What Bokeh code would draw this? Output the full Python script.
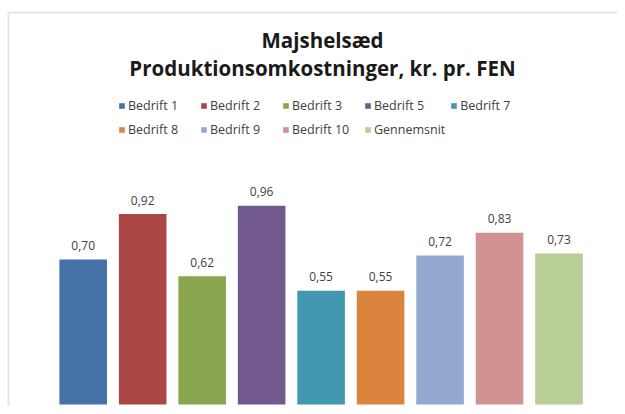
from bokeh.plotting import figure
from bokeh.models import (ColumnDataSource, FactorRange, Range1d, LabelSet, Label,
                          Legend, LegendItem, BoxAnnotation)
from bokeh.core.properties import value
from bokeh.transform import dodge
from bokeh.embed import file_html
from bokeh.resources import INLINE

# ---- data ----
categories = ["Bedrift 1", "Bedrift 2", "Bedrift 3", "Bedrift 5", "Bedrift 7",
              "Bedrift 8", "Bedrift 9", "Bedrift 10", "Gennemsnit"]
values = [0.70, 0.92, 0.62, 0.96, 0.55, 0.55, 0.72, 0.83, 0.73]
colors = ["#4572A7", "#AA4643", "#89A54E", "#71588F", "#4198AF",
          "#DB843D", "#93A9CF", "#D19392", "#B9CD96"]
title_lines = ["Majshelsæd", "Produktionsomkostninger, kr. pr. FEN"]

labels = [f"{v:.2f}".replace(".", ",") for v in values]

W, H = 617, 406
PX_PER_UNIT = 207.0
BASE = 2          # px from canvas bottom to bar baseline
STEP = 59.475     # px per category
PAD = (W / STEP - len(categories)) / 2
SHIFT = 0.2035    # category-unit shift of the bar group

source = ColumnDataSource(dict(cat=categories, val=values, color=colors, lab=labels))

p = figure(width=W, height=H,
           x_range=FactorRange(*categories, range_padding=PAD,
                               range_padding_units="absolute"),
           y_range=Range1d(-BASE / PX_PER_UNIT, (H - BASE) / PX_PER_UNIT),
           output_backend="svg", toolbar_location=None,
           x_axis_location=None, y_axis_location=None,
           min_border_left=0, min_border_right=0,
           min_border_top=0, min_border_bottom=0)
p.grid.visible = False
p.outline_line_color = None
p.background_fill_color = "white"
p.border_fill_color = "white"

xpos = dodge("cat", SHIFT, range=p.x_range)
r = p.vbar(x=xpos, top="val", bottom=0, width=0.8, source=source,
           fill_color="color", line_color=None)

p.add_layout(LabelSet(x=xpos, y="val", text="lab", source=source,
                      text_align="center", text_baseline="middle", y_offset=14,
                      text_font=value("Open Sans"), text_font_size="12px",
                      text_color="#404040"))

# outer chart border (left + top edges visible)
p.add_layout(BoxAnnotation(left=8, right=900, top=H - 12, bottom=-100,
                           left_units="screen", right_units="screen",
                           top_units="screen", bottom_units="screen",
                           fill_alpha=0, line_color="#a8a8a8", line_width=2))

# title
for k, ty in enumerate([39, 67]):
    p.add_layout(Label(x=322, y=H - ty, x_units="screen", y_units="screen",
                       text=title_lines[k], text_align="center", text_baseline="middle",
                       text_font="Open Sans", text_font_style="bold",
                       text_font_size="20.5px", text_color="#1a1a1a"))

items = [LegendItem(label=c, renderers=[r], index=i) for i, c in enumerate(categories)]
legend = Legend(items=items, location=(118, H - 139), orientation="horizontal", ncols=5,
                glyph_width=7, glyph_height=7, label_standoff=3,
                label_width=67, label_height=19, spacing=5,
                padding=0, margin=0, border_line_color=None,
                background_fill_alpha=0,
                label_text_font="Open Sans", label_text_font_size="12.5px",
                label_text_color="#404040")
p.add_layout(legend)

open("out.html", "w").write(file_html(p, INLINE))
